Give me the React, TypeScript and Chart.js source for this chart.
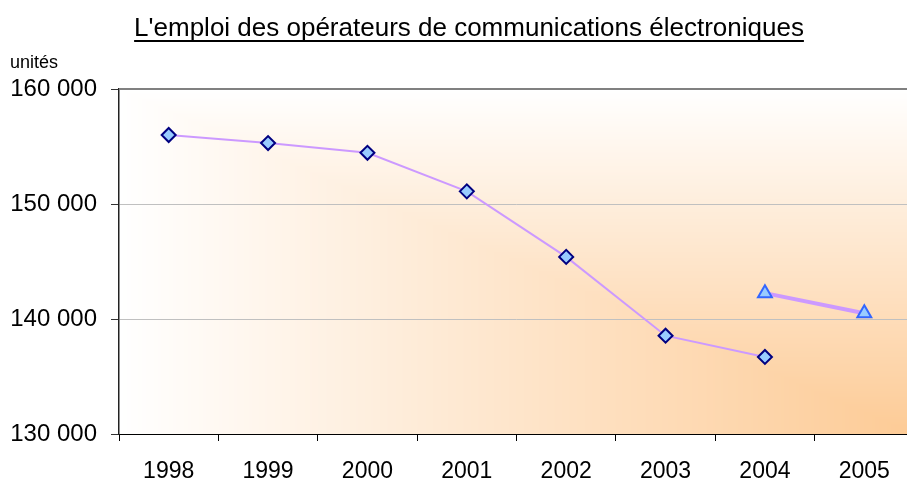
import React, { useEffect, useRef } from "react";
import { Chart, registerables } from "chart.js";

Chart.register(...registerables);

const categories = ["1998", "1999", "2000", "2001", "2002", "2003", "2004", "2005"];
const seriesA = [156000, 155300, 154450, 151100, 145400, 138550, 136700, null];
const seriesB = [null, null, null, null, null, null, 142250, 140500];
const yTicks = [130000, 140000, 150000, 160000];
const titleText = "L'emploi des opérateurs de communications électroniques";
const unitText = "unités";

const FONT = "'Liberation Sans', Arial, sans-serif";
const CANVAS_W = 924;

const fmt = (v: number) => {
  const s = Math.round(v).toString();
  return s.replace(/\B(?=(\d{3})+(?!\d))/g, " ");
};

const bgPlugin = {
  id: "bgGrad",
  beforeDraw(chart: any) {
    const { ctx, chartArea } = chart;
    const w = Math.round(chartArea.right - chartArea.left);
    const h = Math.round(chartArea.bottom - chartArea.top);
    if (w <= 0 || h <= 0) return;
    const off = document.createElement("canvas");
    off.width = w;
    off.height = h;
    const octx = off.getContext("2d")!;
    const img = octx.createImageData(w, h);
    const c0 = [255, 255, 255];
    const c1 = [253, 203, 150];
    for (let y = 0; y < h; y++) {
      const v = y / (h - 1);
      for (let x = 0; x < w; x++) {
        const u = x / (w - 1);
        const t = Math.min(u, v);
        const i = (y * w + x) * 4;
        img.data[i] = c0[0] + (c1[0] - c0[0]) * t;
        img.data[i + 1] = c0[1] + (c1[1] - c0[1]) * t;
        img.data[i + 2] = c0[2] + (c1[2] - c0[2]) * t;
        img.data[i + 3] = 255;
      }
    }
    octx.putImageData(img, 0, 0);
    ctx.save();
    ctx.drawImage(off, chartArea.left, chartArea.top);
    ctx.restore();
  },
  afterDraw(chart: any) {
    const { ctx, chartArea } = chart;
    ctx.save();
    ctx.strokeStyle = "#808080";
    ctx.lineWidth = 2;
    ctx.beginPath();
    ctx.moveTo(chartArea.left, chartArea.top);
    ctx.lineTo(chartArea.right, chartArea.top);
    ctx.stroke();
    ctx.fillStyle = "#000";
    ctx.font = `26px ${FONT}`;
    ctx.textAlign = "center";
    ctx.textBaseline = "alphabetic";
    const tx = 469;
    const ty = 36;
    ctx.fillText(titleText, tx, ty);
    const tw = ctx.measureText(titleText).width;
    ctx.fillRect(tx - tw / 2, 40, tw, 2);
    ctx.font = `18px ${FONT}`;
    ctx.textAlign = "left";
    ctx.fillText(unitText, 10, 68);
    ctx.restore();
  },
};

export default function App() {
  const ref = useRef<HTMLCanvasElement>(null);
  useEffect(() => {
    const chart = new Chart(ref.current!, {
      type: "line",
      data: {
        labels: categories,
        datasets: [
          {
            data: seriesA,
            borderColor: "#CC99FF",
            borderWidth: 2,
            pointStyle: "rectRot",
            pointRadius: 7,
            pointBackgroundColor: "#99CCFF",
            pointBorderColor: "#000080",
            pointBorderWidth: 2,
            tension: 0,
            spanGaps: false,
          },
          {
            data: seriesB,
            borderColor: "#CC99FF",
            borderWidth: 4,
            pointStyle: "triangle",
            pointRadius: 8,
            pointBackgroundColor: "#99CCFF",
            pointBorderColor: "#3366FF",
            pointBorderWidth: 2,
            tension: 0,
            spanGaps: false,
          },
        ],
      },
      options: {
        responsive: false,
        animation: false,
        devicePixelRatio: 1,
        layout: { padding: { top: 89, left: 0, right: 0, bottom: 0 } },
        plugins: {
          legend: { display: false },
          tooltip: { enabled: false },
          title: { display: false },
        },
        scales: {
          x: {
            type: "category",
            offset: true,
            grid: {
              offset: true,
              drawOnChartArea: false,
              drawTicks: true,
              tickLength: 7,
              tickColor: "#000",
              tickWidth: 1,
            },
            border: { display: true, color: "#000", width: 1 },
            ticks: {
              color: "#000",
              font: { family: FONT, size: 23 },
              padding: 17,
              maxRotation: 0,
              autoSkip: false,
            },
            afterFit: (scale: any) => {
              scale.height = 47;
            },
          },
          y: {
            min: 130000,
            max: 160000,
            afterBuildTicks: (scale: any) => {
              scale.ticks = yTicks.map((v) => ({ value: v }));
            },
            grid: {
              drawTicks: true,
              tickLength: 8,
              tickColor: "#333",
              color: (ctx: any) =>
                ctx.tick && (ctx.tick.value === 160000 || ctx.tick.value === 130000)
                  ? "rgba(0,0,0,0)"
                  : "#C0C0C0",
            },
            border: { display: true, color: "#222", width: 1.5 },
            ticks: {
              color: "#000",
              font: { family: FONT, size: 24 },
              padding: 14,
              callback: (v: any) => fmt(Number(v)),
            },
            afterFit: (scale: any) => {
              scale.width = 119;
            },
          },
        },
      },
      plugins: [bgPlugin],
    });
    return () => chart.destroy();
  }, []);
  return (
    <div
      style={{
        position: "fixed",
        left: 0,
        top: 0,
        width: 907,
        height: 481,
        overflow: "hidden",
        background: "#fff",
      }}
    >
      <div style={{ width: CANVAS_W, height: 481 }}>
        <canvas
          ref={ref}
          width={CANVAS_W}
          height={481}
          style={{ display: "block", width: CANVAS_W, height: 481 }}
        />
      </div>
    </div>
  );
}
